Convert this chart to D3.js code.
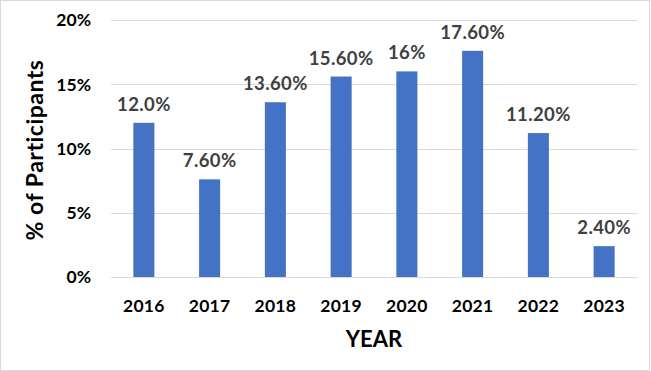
<!DOCTYPE html>
<html>
<head>
<meta charset="utf-8">
<script src="https://cdn.jsdelivr.net/npm/d3@7"></script>
<style>
  body { margin: 0; background: #fff; }
  svg { display: block; }
</style>
</head>
<body>
<div id="chart"></div>
<script>
var width = 651;
var height = 371;

// chart data
var years = ["2016", "2017", "2018", "2019", "2020", "2021", "2022", "2023"];
var values = [12.0, 7.6, 13.6, 15.6, 16, 17.6, 11.2, 2.4];
var valueLabels = ["12.0%", "7.60%", "13.60%", "15.60%", "16%", "17.60%", "11.20%", "2.40%"];
var yTicks = [0, 5, 10, 15, 20];

var margin = {top: 20, right: 14, bottom: 94, left: 111};
var font = "Lato, 'Open Sans', sans-serif";

var svg = d3.select("#chart")
    .append("svg")
    .attr("width", width)
    .attr("height", height)
    .attr("font-family", font)
    .attr("font-weight", "bold");

// outer frame
svg.append("rect")
    .attr("x", 0.5)
    .attr("y", 0.5)
    .attr("width", width - 2)
    .attr("height", height - 1)
    .attr("fill", "#fff")
    .attr("stroke", "#d9d9d9");

var x = d3.scaleBand()
    .domain(years)
    .range([margin.left, width - margin.right])
    .paddingInner(0.68)
    .paddingOuter(0.34);

var y = d3.scaleLinear()
    .domain([0, 20])
    .range([height - margin.bottom, margin.top]);

// gridlines
svg.append("g")
  .selectAll("line")
  .data(yTicks)
  .enter().append("line")
    .attr("x1", margin.left)
    .attr("x2", width - margin.right)
    .attr("y1", function(d) { return Math.round(y(d)) + 0.5; })
    .attr("y2", function(d) { return Math.round(y(d)) + 0.5; })
    .attr("stroke", "#d9d9d9")
    .attr("stroke-width", 1);

// y tick labels
svg.append("g")
  .selectAll("text")
  .data(yTicks)
  .enter().append("text")
    .attr("x", margin.left - 20)
    .attr("y", function(d) { return y(d); })
    .attr("dy", "0.36em")
    .attr("text-anchor", "end")
    .attr("font-size", 17.5)
    .attr("fill", "#000")
    .text(function(d) { return d + "%"; });

// bars
svg.append("g")
  .selectAll("rect")
  .data(values)
  .enter().append("rect")
    .attr("x", function(d, i) { return x(years[i]); })
    .attr("y", function(d) { return y(d); })
    .attr("width", x.bandwidth())
    .attr("height", function(d) { return y(0) - y(d); })
    .attr("fill", "#4472c4");

// value labels
svg.append("g")
  .selectAll("text")
  .data(values)
  .enter().append("text")
    .attr("x", function(d, i) { return x(years[i]) + x.bandwidth() / 2; })
    .attr("y", function(d) { return y(d) - 12; })
    .attr("text-anchor", "middle")
    .attr("font-size", 18.5)
    .attr("letter-spacing", 0.4)
    .attr("fill", "#404040")
    .text(function(d, i) { return valueLabels[i]; });

// x tick labels
svg.append("g")
  .selectAll("text")
  .data(years)
  .enter().append("text")
    .attr("x", function(d) { return x(d) + x.bandwidth() / 2; })
    .attr("y", y(0) + 35)
    .attr("text-anchor", "middle")
    .attr("font-size", 17.5)
    .attr("letter-spacing", 0.3)
    .attr("fill", "#000")
    .text(function(d) { return d; });

// axis titles
svg.append("text")
    .attr("x", (margin.left + width - margin.right) / 2)
    .attr("y", 347)
    .attr("text-anchor", "middle")
    .attr("font-size", 22)
    .attr("fill", "#000")
    .text("YEAR");

svg.append("text")
    .attr("transform", "translate(43," + 150 + ") rotate(-90)")
    .attr("text-anchor", "middle")
    .attr("font-size", 23)
    .attr("letter-spacing", 0.5)
    .attr("fill", "#000")
    .text("% of Participants");
</script>
</body>
</html>
